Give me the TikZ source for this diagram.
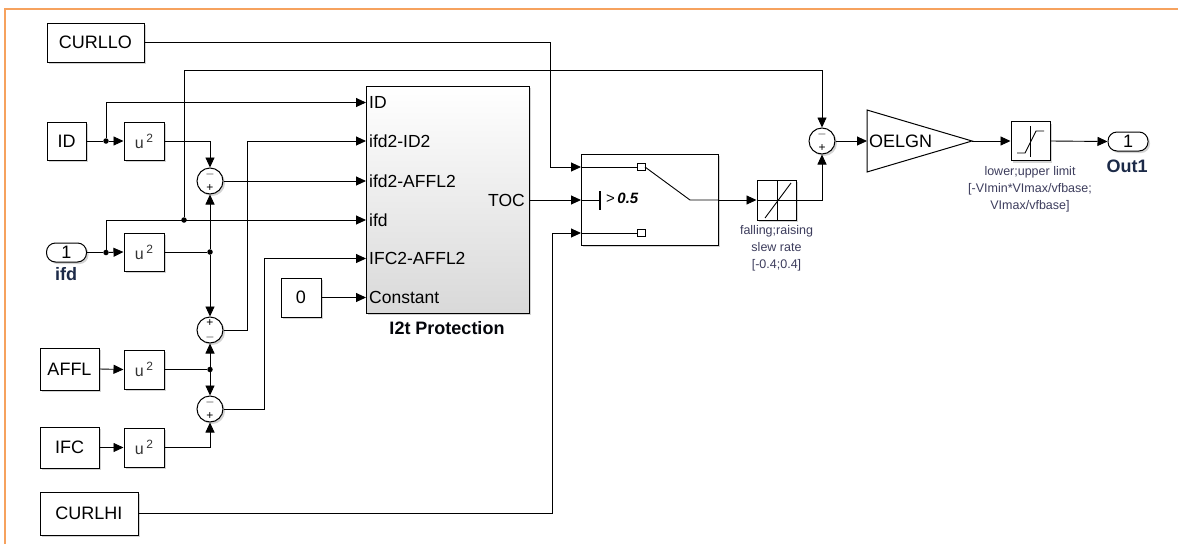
\documentclass[tikz,border=0pt]{standalone}
\usepackage{fontspec}
\setmainfont{Liberation Sans}
\usetikzlibrary{arrows.meta,shadows,calc}
\definecolor{orng}{HTML}{F6A25E}
\definecolor{navy}{HTML}{1C2A48}
\definecolor{lbl}{HTML}{3C3C5C}
\newcommand\myfs[2]{\fontsize{#1}{#2}\selectfont}
\newcommand\usq{{\myfs{16}{16}u\,\raisebox{6pt}{\myfs{12}{12}2}}}
\begin{document}
\begin{tikzpicture}[x=1pt,y=-1pt,
  shd/.style={drop shadow={shadow xshift=2pt,shadow yshift=-2pt,opacity=0.35}},
  blk/.style={draw, fill=white, line width=1pt, inner sep=0pt, shd, font=\myfs{18}{21}},
  sq/.style={blk, minimum width=40pt, minimum height=38pt, text=black!80},
  oval/.style={blk, rounded corners=9pt, minimum width=40pt, minimum height=19pt},
  sumc/.style={circle, draw, fill=white, line width=1pt, minimum size=26pt, inner sep=0pt, shd},
  sgn/.style={font=\myfs{12}{12}, inner sep=0pt},
  wire/.style={line width=0.9pt},
  arr/.style={wire, -{Triangle[length=10pt,width=9pt]}},
  jdot/.style={circle, fill, inner sep=0pt, minimum size=5.5pt},
  plab/.style={anchor=west, font=\myfs{17.5}{20}, inner sep=0pt},
  small/.style={align=center, font=\myfs{12.5}{17}, text=lbl, inner sep=0pt},
  bname/.style={font=\bfseries\myfs{18}{21}, text=navy, inner sep=0pt}]
\useasboundingbox (0,0) rectangle (1178,544);
% frame
\draw[orng, line width=1.8pt] (5,544) -- (5,9) -- (1178,9);

% blocks
\node[blk, minimum width=97pt, minimum height=39pt] (curllo) at (95.5,42.5) {CURLLO};
\node[blk, minimum width=39pt, minimum height=38pt] (id) at (66.5,141) {ID};
\node[sq] (u1) at (144,141) {\usq};
\node[oval] (ifdin) at (66.5,252.5) {1};
\node[bname] (ifdlab) at (66,274) {ifd};
\node[sq] (u2) at (144,252) {\usq};
\node[blk, minimum width=59pt, minimum height=42pt] (affl) at (69.5,369) {AFFL};
\node[sq, minimum height=39pt] (u3) at (144,369.5) {\usq};
\node[blk, minimum width=59pt, minimum height=41pt] (ifc) at (69.5,447.5) {IFC};
\node[sq, minimum height=39pt] (u4) at (144,447.5) {\usq};
\node[blk, minimum width=98pt, minimum height=43pt] (curlhi) at (89,513.5) {CURLHI};
\node[blk, minimum width=40pt, minimum height=39pt] (zero) at (301,297.5) {0};

% sums
\node[sumc] (s1) at (210,181) {};
\node[sgn] at (210,174.5) {$-$}; \node[sgn] at (210,188) {+};
\node[sumc] (s2) at (210,330) {};
\node[sgn] at (210,323) {+}; \node[sgn] at (210,337) {$-$};
\node[sumc] (s3) at (210,409) {};
\node[sgn] at (210,402.5) {$-$}; \node[sgn] at (210,416) {+};
\node[sumc] (s4) at (822,141) {};
\node[sgn] at (822,134.5) {$-$}; \node[sgn] at (822,148) {+};

% I2t block
\node[draw, line width=1pt, top color=white, bottom color=gray!30, shd,
      minimum width=163pt, minimum height=227pt, inner sep=0pt] (i2t) at (447.5,199.5) {};
\node[plab] (lID) at (369,102.5) {ID};
\node[plab] (lID2) at (369,141) {ifd2-ID2};
\node[plab] (lAF) at (369,181) {ifd2-AFFL2};
\node[plab] (lifd) at (369,220) {ifd};
\node[plab] (lIFC) at (369,258.5) {IFC2-AFFL2};
\node[plab] (lC) at (369,297.5) {Constant};
\node[plab, anchor=east] (lTOC) at (525,200) {TOC};
\node[bname, text=black!85!navy] (i2tlab) at (447,328) {I2t Protection};
\coordinate (pID) at (366,102.5);
\coordinate (pID2) at (366,141);
\coordinate (pAF) at (366,181);
\coordinate (pifd) at (366,220);
\coordinate (pIFC) at (366,258.5);
\coordinate (pC) at (366,297.5);
\coordinate (pTOC) at (529,200);

% switch
\node[blk, minimum width=137pt, minimum height=91pt] (sw) at (649.5,199.5) {};
\coordinate (swA) at (581,167);
\coordinate (swB) at (581,200);
\coordinate (swC) at (581,233);
\coordinate (swO) at (718,200);
\draw[wire] (swA) -- (637,167);
\draw[wire, fill=white] (637,163.5) rectangle (645,170.5);
\draw[wire] (swC) -- (637,233);
\draw[wire, fill=white] (637,229.5) rectangle (645,236.5);
\draw[wire] (swB) -- (600,200);
\draw[line width=1.2pt] (600,191) -- (600,210);
\node[anchor=west, inner sep=0pt] (thr) at (606,198) {\myfs{15}{15}>\,\textbf{\textit{0.5}}};
\draw[wire] (645,167) -- (690,200) -- (swO);

% rate limiter
\node[blk, minimum width=39pt, minimum height=40pt] (rate) at (776.5,200) {};
\draw[line width=0.7pt] (757,200.5) -- (796,200.5) (777,180) -- (777,220);
\draw[wire] (765,218) -- (791,183);
\node[small] (ratelab) at (776.5,248) {falling;raising\\slew rate\\{[}-0.4;0.4{]}};

% gain
\draw[line width=1pt, fill=white] (867,110) -- (972,141) -- (867,172) -- cycle;
\node[plab, font=\myfs{18}{21}] (gaintxt) at (869,141) {OELGN};
\coordinate (gL) at (867,141);
\coordinate (gR) at (972,141);

% saturation
\node[blk, minimum width=39pt, minimum height=39pt] (sat) at (1030.5,141) {};
\draw[line width=0.7pt] (1030.5,126) -- (1030.5,157);
\draw[wire] (1017,153) -- (1025,153) -- (1036,131) -- (1044,131);
\node[small] (satlab) at (1030,189) {lower;upper limit\\{[}-VImin*VImax/vfbase;\\VImax/vfbase{]}};

% out1
\node[oval] (out1) at (1128,141.5) {1};
\node[bname] (out1lab) at (1127,166) {Out1};

% junction dots
\node[jdot] (j1) at (106,141) {};
\node[jdot] (j2) at (106,252.5) {};
\node[jdot] (j3) at (184,220) {};
\node[jdot] (j4) at (210,252) {};
\node[jdot] (j5) at (210,369.5) {};

% wires
\draw[arr] (curllo.east) -- (550,42.5) -- (550,167) -- (swA);
\draw[wire] (id.east) -- (j1);
\draw[arr] (j1) -- (u1.west);
\draw[arr] (j1) -- (106,102.5) -- (pID);
\draw[arr] (u1.east) -- (210,141) -- (s1.north);
\draw[wire] (ifdin.east) -- (j2);
\draw[arr] (j2) -- (u2.west);
\draw[arr] (j2) -- (106,220) -- (pifd);
\draw[arr] (j3) -- (184,70) -- (822,70) -- (s4.north);
\draw[wire] (u2.east) -- (j4);
\draw[arr] (j4) -- (s1.south);
\draw[arr] (j4) -- (s2.north);
\draw[arr] (s1.east) -- (pAF);
\draw[arr] (s2.east) -- (247,330) -- (247,141) -- (pID2);
\draw[arr] (affl.east) -- (u3.west);
\draw[wire] (u3.east) -- (j5);
\draw[arr] (j5) -- (s2.south);
\draw[arr] (j5) -- (s3.north);
\draw[arr] (ifc.east) -- (u4.west);
\draw[arr] (u4.east) -- (210,447.5) -- (s3.south);
\draw[arr] (s3.east) -- (264,409) -- (264,258.5) -- (pIFC);
\draw[arr] (zero.east) -- (pC);
\draw[arr] (pTOC) -- (swB);
\draw[arr] (curlhi.east) -- (552,513.5) -- (552,233) -- (swC);
\draw[arr] (swO) -- (rate.west);
\draw[arr] (rate.east) -- (822,200) -- (s4.south);
\draw[arr] (s4.east) -- (gL);
\draw[arr] (gR) -- (sat.west);
\draw[arr] (sat.east) -- (out1.west);
\end{tikzpicture}
\end{document}
